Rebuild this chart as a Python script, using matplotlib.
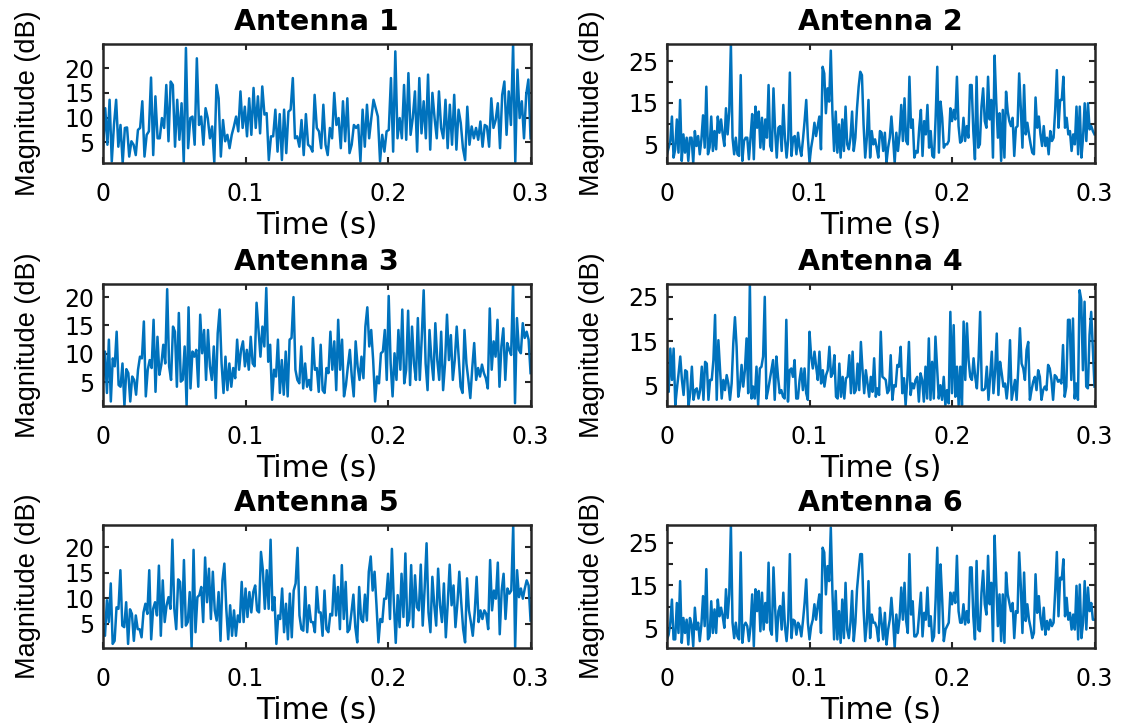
import numpy as np
import matplotlib
matplotlib.use("Agg")
import matplotlib.pyplot as plt

# Magnitude traces (dB) per antenna over a 0.3 s window
antenna1_mag = [
    3.8, 11.9, 4.5, 13.6, 1.1, 8.5, 13.6, 4.1, 8.5, 0.8, 7.9, 8.0, 2.1, 5.2, 4.5, 2.4,
    7.5, 7.9, 13.3, 2.1, 6.5, 7.2, 18.1, 2.4, 14.3, 5.8, 5.8, 9.9, 7.9, 16.6, 5.2, 17.3,
    16.6, 4.1, 13.6, 5.5, 12.9, 0.9, 24.1, 3.8, 9.9, 10.2, 4.5, 22.0, 8.5, 10.2, 4.5, 11.9,
    9.9, 5.8, 8.2, 0.9, 16.6, 13.9, 2.1, 9.5, 5.2, 6.5, 3.8, 6.5, 8.2, 10.2, 7.2, 15.3,
    7.9, 12.2, 6.2, 13.9, 6.5, 16.0, 7.9, 14.3, 6.8, 16.3, 10.6, 10.9, 1.4, 6.2, 6.2, 11.6,
    3.1, 10.7, 1.4, 11.6, 2.8, 11.2, 11.6, 18.0, 5.8, 6.2, 4.1, 9.5, 2.4, 10.7, 4.5, 4.1,
    3.1, 14.6, 7.9, 7.2, 3.8, 12.6, 4.5,
    2.4, 7.9, 5.8, 15.0, 8.5, 9.9, 3.8, 13.3, 5.2, 13.9, 2.8, 4.5, 8.5, 7.9, 8.5, 1.1,
    11.6, 4.1, 12.6, 5.8, 9.9, 13.6, 11.9, 10.2, 1.1, 6.5, 3.1, 7.2, 7.5, 18.0, 3.1, 23.4,
    5.8, 9.9, 5.8, 16.6, 5.5, 19.0, 6.5, 9.9, 15.3, 3.1, 18.0, 6.8, 13.3, 5.8, 18.7, 3.5,
    15.0, 9.9, 5.8, 15.3, 7.9, 5.8, 13.6, 3.8, 12.6, 4.5, 14.6, 3.5, 11.6, 8.9, 3.8, 1.4,
    12.2, 4.5, 8.2, 5.8, 7.9, 5.5, 9.2, 4.1, 8.5, 8.2, 4.1, 13.9, 7.9, 9.5, 12.9, 3.8,
    14.6, 17.3, 6.5, 15.3, 8.5, 24.9, 1.0, 19.7, 9.9, 13.3, 5.8, 14.6, 17.7, 5.8,
]

antenna2_mag = [
    2.6, 4.2, 5.8, 11.7, 1.8, 3.8, 11.0, 3.0, 15.7, 1.0, 7.4, 3.0, 6.6, 1.0, 6.6, 6.6,
    0.5, 8.2, 4.6, 7.0, 2.6, 6.2, 12.0, 4.2, 18.9, 2.6, 4.2, 11.7, 3.4, 8.2, 3.8, 11.7,
    7.8, 11.0, 7.4, 4.6, 13.7, 7.4, 12.9, 29.2, 6.6, 2.6, 6.6, 2.6, 2.2, 21.7, 1.0, 5.8,
    6.6, 6.6, 1.4, 6.6, 12.3, 1.4, 14.1, 9.0, 12.9, 4.2, 11.4, 3.8, 11.0, 6.6, 19.3, 4.6,
    3.4, 18.5, 8.2, 1.8, 9.0, 9.4, 3.4, 14.5, 6.6, 1.8, 6.2, 22.3, 2.2, 6.6, 7.0, 2.6,
    7.8, 4.2, 2.2, 6.2, 10.6, 15.7, 6.6, 0.6, 4.2, 6.6, 10.2, 7.0, 9.4, 11.7, 3.8, 23.7,
    22.1, 12.5, 18.5, 15.3, 27.6, 12.5, 3.4, 12.9, 3.0, 9.8, 1.8, 11.0, 3.4, 14.1, 5.0, 3.8,
    6.6, 12.9, 3.4, 6.6, 13.7, 18.9, 22.5, 21.7, 9.8, 1.8, 6.6, 15.7, 1.8, 8.2, 5.0, 6.2,
    4.2, 1.8, 8.2,
    7.8, 3.4, 7.8, 0.6, 4.2, 6.6, 11.7, 6.6, 0.5, 7.8, 3.4, 7.4, 14.5, 5.8, 16.1, 5.8,
    5.0, 21.3, 9.0, 11.0, 1.8, 3.4, 3.0, 9.0, 13.3, 2.2, 10.6, 7.4, 14.5, 4.2, 8.2, 2.2,
    1.8, 11.4, 23.7, 3.0, 15.3, 11.4, 4.2, 5.0, 5.0, 5.8, 13.7, 10.6, 13.3, 11.0, 21.3, 9.4,
    5.4, 5.8, 11.4, 5.8, 9.4, 6.6, 19.3, 19.3, 8.2, 1.4, 21.3, 4.2, 5.0, 14.1, 18.5, 10.6,
    9.0, 21.3, 11.0, 15.7, 1.8, 26.4, 15.3, 6.6, 12.5, 1.0, 13.3, 1.8, 17.7, 12.9, 10.6, 9.4,
    11.4, 2.2, 9.0, 9.4, 22.1, 13.7, 4.2, 19.3, 7.4, 10.2, 7.4, 5.0, 3.0, 2.6, 16.3, 9.0,
    11.7, 7.4, 4.6, 9.4, 4.6, 6.6, 2.6, 8.2, 5.8, 6.6, 13.3, 22.9, 9.0, 15.7, 15.7, 21.3,
    9.0, 11.4, 7.4, 8.2, 3.4, 7.4, 5.0, 14.1, 2.6, 14.1, 1.8, 6.6, 14.9, 5.8, 14.9, 8.6,
    9.4, 8.2, 7.4,
]

antenna3_mag = [
    4.8, 10.4, 3.1, 12.5, 1.6, 9.2, 7.8, 13.9, 4.5, 4.2, 8.3, 0.8, 7.3, 6.6, 1.6, 6.0,
    5.4, 2.8, 7.2, 9.5, 9.2, 15.7, 2.5, 7.2, 8.9, 7.5, 16.0, 3.3, 13.0, 6.3, 8.1, 11.6,
    8.3, 21.4, 7.8, 5.4, 14.8, 13.9, 4.2, 17.2, 5.1, 5.4, 11.3, 0.8, 18.2, 3.9, 10.4, 9.5,
    10.7, 4.2, 16.9, 10.1, 14.2, 5.4, 14.2, 7.8, 5.4, 11.3, 2.2, 13.6, 17.8, 8.3, 3.1, 9.5,
    3.6, 8.3, 4.2, 7.5, 5.7, 12.5, 7.2, 10.7, 12.2, 7.8, 10.7, 7.2, 13.0, 8.3, 7.8, 19.0,
    14.2, 9.5, 14.8, 11.3, 21.6, 8.6, 11.6, 1.9, 7.2, 6.0, 12.5, 3.1, 8.9, 2.8, 10.4, 2.5,
    12.5, 12.8, 20.0, 7.2, 5.4, 4.8, 11.3, 3.9, 8.3, 4.2, 5.4, 3.6, 12.8, 7.2, 7.5, 3.3,
    11.6, 3.6,
    3.1, 7.5, 6.6, 13.9, 7.2, 12.2, 3.6, 16.0, 7.2, 12.5, 2.5, 4.5, 7.8, 10.7, 6.0, 2.5,
    12.2, 7.8, 5.4, 9.5, 5.7, 14.8, 18.2, 11.3, 14.2, 8.9, 1.6, 6.0, 4.8, 10.1, 10.4, 14.2,
    5.4, 20.2, 8.3, 2.5, 10.1, 5.4, 14.2, 7.2, 17.8, 4.8, 7.2, 17.6, 4.5, 14.8, 8.3, 5.4,
    16.3, 5.4, 12.8, 21.2, 8.3, 3.6, 14.2, 8.9, 5.4, 15.4, 8.9, 5.4, 13.9, 3.6, 8.3, 16.9,
    8.9, 13.3, 5.4, 8.9, 14.8, 9.5, 4.2, 3.1, 14.2, 8.3, 5.4, 2.2, 7.5, 11.9, 5.4, 7.5,
    6.0, 8.1, 6.6, 5.7, 3.9, 18.0, 7.2, 12.2, 9.5, 16.0, 4.2, 11.3, 14.5, 5.4, 11.9, 10.7,
    9.8, 22.3, 1.3, 16.3, 10.7, 10.1, 15.4, 12.8, 13.9, 12.5, 6.6,
]

antenna4_mag = [
    4.7, 3.5, 13.3, 6.2, 13.3, 0.5, 4.3, 7.7, 11.5, 6.2, 2.8, 8.4, 8.1, 0.3, 3.2, 9.2,
    1.7, 3.9, 4.3, 2.0, 3.9, 9.2, 1.7, 10.3, 9.9, 1.7, 6.2, 6.2, 10.7, 20.9, 1.7, 15.2,
    8.4, 2.0, 6.2, 3.9, 7.3, 5.4, 1.7, 5.4, 14.5, 20.4, 13.7, 2.4, 4.7, 9.6, 4.7, 8.4,
    15.6, 3.2, 27.9, 2.0, 4.7, 2.0, 9.2, 0.5, 8.8, 9.2, 11.5, 25.0, 2.0, 3.9, 6.2, 8.4,
    10.7, 1.7, 11.5, 6.9, 3.2, 3.9, 2.4, 2.0, 19.8, 1.3, 8.4, 8.8, 6.9, 10.7, 2.0, 2.0,
    6.2, 8.8, 3.9, 8.8, 3.2, 1.7, 17.1, 11.5, 8.8, 12.6, 9.2, 6.2, 12.6, 5.4, 8.4, 4.7,
    7.3, 8.4, 13.7, 6.9, 7.7, 11.8, 2.4, 2.0, 9.9, 2.4, 6.9, 2.0, 6.6, 6.9, 11.8, 3.2,
    12.6, 3.2, 3.9, 9.9, 3.9, 14.8, 8.4, 3.2, 8.4, 5.4, 2.4, 6.9, 3.5, 11.1, 2.4, 4.3,
    2.8, 17.1,
    6.9, 6.6, 6.2, 3.2, 3.9, 11.8, 1.7, 5.0, 4.7, 9.6, 9.2, 13.7, 3.2, 6.6, 0.5, 6.2,
    14.8, 2.8, 5.4, 4.3, 6.2, 6.9, 1.3, 7.7, 6.2, 1.3, 9.2, 2.0, 15.6, 1.7, 10.3, 2.0,
    16.0, 9.2, 2.0, 5.0, 1.7, 6.9, 0.5, 3.9, 0.9, 21.6, 3.2, 18.6, 2.4, 9.2, 0.5, 9.2,
    0.5, 19.4, 6.2, 19.0, 10.7, 6.9, 6.2, 11.1, 6.9, 4.3, 10.7, 21.6, 3.9, 3.9, 4.3, 9.2,
    1.7, 6.9, 12.6, 3.2, 8.1, 16.7, 2.8, 10.3, 7.7, 4.7, 5.4, 2.0, 5.8, 15.2, 1.7, 3.9,
    6.2, 1.7, 8.8, 17.9, 9.9, 8.8, 6.2, 13.0, 14.8, 1.7, 3.9, 5.8, 6.9, 3.9, 8.4, 6.9,
    1.7, 3.9, 4.7, 3.9, 9.6, 8.8, 6.2, 1.7, 7.3, 6.9, 5.8, 6.2, 5.4, 14.1, 2.4, 4.7,
    19.8, 19.8, 6.2, 20.1, 2.0, 5.4, 1.7, 26.5, 24.3, 8.4, 23.9, 4.7, 4.3, 16.4, 21.6, 13.0,
    4.7,
]

antenna5_mag = [
    3.6, 2.6, 9.6, 5.3, 12.9, 1.0, 1.6, 8.2, 7.9, 15.5, 4.6, 4.3, 9.2, 1.0, 7.8, 6.9,
    1.6, 6.6, 3.9, 3.9, 2.3, 7.2, 8.9, 6.9, 15.5, 1.9, 7.9, 9.2, 6.6, 16.4, 2.6, 13.5,
    5.3, 8.6, 10.2, 7.9, 21.5, 7.9, 3.9, 13.7, 13.2, 4.3, 17.5, 4.6, 5.3, 11.2, 0.2, 19.5,
    3.3, 10.2, 10.6, 12.2, 5.3, 18.0, 9.2, 15.8, 5.9, 15.2, 7.6, 5.6, 11.2, 1.6, 13.5, 16.8,
    7.9, 1.9, 8.6, 2.6, 7.6, 2.6, 6.6, 5.3, 13.2, 5.3, 11.9, 6.3, 11.2, 7.2, 11.2, 12.5,
    7.6, 7.2, 19.1, 15.5, 7.9, 15.5, 7.9, 21.5, 7.6, 10.2, 1.0, 6.6, 5.9, 11.9, 3.3, 8.9,
    1.9, 10.9, 2.3, 11.5, 12.9, 19.9, 6.6, 3.9, 3.6, 12.2, 3.3, 8.6, 5.3, 5.3, 3.3, 12.2,
    7.2, 7.2, 2.6, 11.5, 3.9,
    3.3, 6.9, 6.6, 14.5, 6.6, 12.2, 3.9, 16.5, 5.9, 13.2, 3.3, 3.9, 7.2, 10.7, 4.3, 1.3,
    12.2, 5.9, 5.3, 10.7, 5.6, 15.2, 18.2, 11.5, 15.2, 8.6, 1.3, 5.9, 5.3, 9.9, 9.9, 14.8,
    5.9, 19.7, 9.2, 1.2, 10.6, 4.3, 14.8, 6.3, 18.8, 4.6, 5.9, 16.5, 4.3, 14.5, 8.2, 7.6,
    16.6, 4.6, 11.9, 20.8, 7.2, 3.3, 14.2, 8.6, 4.6, 15.8, 8.6, 5.3, 12.9, 2.3, 8.9, 16.6,
    8.6, 12.5, 4.3, 8.9, 15.2, 9.2, 3.9, 1.3, 13.9, 7.6, 5.3, 2.6, 7.2, 14.2, 5.3, 7.6,
    5.9, 7.6, 6.9, 3.9, 17.5, 7.6, 11.5, 9.9, 17.0, 2.9, 11.5, 14.8, 5.9, 11.9, 10.9, 11.5,
    24.4, 0.3, 15.5, 10.2, 11.9, 9.9, 11.9, 13.5, 12.5, 5.6,
]

antenna6_mag = [
    2.4, 3.5, 6.3, 11.7, 2.4, 2.4, 10.9, 3.9, 16.0, 1.6, 7.4, 3.9, 7.0, 1.2, 7.4, 5.9,
    0.8, 9.8, 4.7, 6.3, 2.0, 5.9, 12.5, 5.5, 18.8, 2.4, 3.1, 11.3, 3.9, 9.4, 3.9, 11.7,
    7.8, 9.8, 7.8, 5.1, 14.1, 7.4, 12.9, 29.1, 6.3, 2.7, 6.3, 3.1, 2.4, 22.7, 1.6, 5.5,
    6.3, 5.5, 2.0, 5.5, 12.9, 0.8, 14.1, 9.0, 13.7, 4.3, 13.3, 4.7, 10.9, 6.3, 20.3, 4.7,
    3.5, 19.2, 9.8, 2.0, 9.0, 10.2, 4.7, 13.3, 5.5, 2.0, 7.0, 22.3, 2.7, 7.0, 6.7, 3.5,
    6.3, 5.5, 3.1, 6.7, 10.9, 16.4, 6.3, 2.4, 5.5, 7.0, 10.6, 7.0, 10.2, 12.9, 3.9, 23.8,
    22.7, 12.9, 19.5, 16.0, 28.5, 13.3, 2.4, 13.7, 2.4, 9.0, 1.6, 11.7, 2.7, 15.6, 4.7, 2.7,
    6.3, 13.7, 2.0, 6.3, 14.1, 18.4, 22.3, 22.3, 9.4, 2.0, 6.3, 16.0, 2.7, 8.2, 6.3, 6.3,
    5.1, 2.0, 9.8,
    6.3, 2.4, 8.6, 1.2, 4.7, 7.0, 12.1, 7.0, 0.4, 8.2, 3.9, 7.4, 14.5, 7.0, 15.6, 6.7,
    3.9, 22.3, 8.2, 11.3, 3.1, 3.1, 3.9, 8.6, 13.3, 3.1, 8.6, 7.0, 14.5, 5.5, 7.8, 2.0,
    3.1, 11.7, 23.8, 3.9, 19.9, 11.7, 2.0, 4.7, 5.5, 6.3, 13.3, 10.6, 13.3, 10.9, 21.9, 9.0,
    6.3, 6.3, 10.6, 5.9, 9.0, 6.3, 19.2, 19.2, 7.8, 2.4, 20.7, 4.7, 4.3, 13.3, 18.4, 10.6,
    8.2, 21.9, 10.6, 15.6, 2.0, 26.6, 15.6, 5.5, 12.9, 2.0, 12.9, 1.6, 18.0, 12.9, 10.9, 9.0,
    10.9, 2.7, 9.0, 8.6, 22.7, 14.9, 3.9, 18.0, 6.7, 10.6, 7.0, 5.1, 2.7, 3.9, 17.6, 8.6,
    12.5, 7.4, 4.7, 9.8, 3.5, 6.7, 4.7, 7.0, 5.5, 6.3, 13.7, 22.8, 7.8, 16.8, 16.4, 21.1,
    7.8, 12.1, 7.0, 8.6, 4.7, 8.2, 4.7, 14.9, 2.4, 15.2, 2.7, 6.3, 16.0, 4.7, 14.5, 9.0,
    10.9, 7.0, 7.0,
]

titles = ["Antenna 1", "Antenna 2", "Antenna 3", "Antenna 4", "Antenna 5", "Antenna 6"]
series = [antenna1_mag, antenna2_mag, antenna3_mag, antenna4_mag, antenna5_mag, antenna6_mag]

x_ticks = [0, 0.1, 0.2, 0.3]
x_tick_labels = ["0", "0.1", "0.2", "0.3"]
yticks_small = [5, 10, 15, 20]
ytick_labels_small = ["5", "10", "15", "20"]
yticks_large = [5, 10, 15, 20, 25]
ytick_labels_large = ["5", "", "15", "", "25"]

# wide face for horizontal text, narrower one for the rotated y label
plt.rcParams['font.family'] = ['DejaVu Sans']
ylabel_font = ['Liberation Sans', 'DejaVu Sans']

fig = plt.figure(figsize=(11.25, 7.27), dpi=100)

# axes boxes in figure fractions [left, bottom, width, height]
col_left = [0.0916, 0.5929]
col_width = 0.3800
row_bottom = [0.7758, 0.4415, 0.1087]
row_height = [0.1637, 0.1678, 0.1692]

matlab_blue = "#0072BD"
frame_color = "#262626"

for i, (name, mag) in enumerate(zip(titles, series)):
    r, c = divmod(i, 2)
    ax = fig.add_axes([col_left[c], row_bottom[r], col_width, row_height[r]])
    mag = np.array(mag)
    t = np.linspace(0, 0.3, len(mag))
    ax.plot(t, mag, color=matlab_blue, linewidth=1.8)

    ax.set_xlim(0, 0.3)
    ax.set_ylim(mag.min(), mag.max())
    ax.set_xticks(x_ticks)
    ax.set_xticklabels(x_tick_labels)
    if c == 0:
        ax.set_yticks(yticks_small)
        ax.set_yticklabels(ytick_labels_small)
    else:
        ax.set_yticks(yticks_large)
        ax.set_yticklabels(ytick_labels_large)

    ax.tick_params(direction='in', length=4, width=1.5, top=True, right=True,
                   labelsize=17, colors=frame_color, labelcolor='black')
    ax.tick_params(axis='x', pad=13.5)
    ax.tick_params(axis='y', pad=6)
    for spine in ax.spines.values():
        spine.set_linewidth(1.8)
        spine.set_color(frame_color)

    ax.set_title(name, fontsize=20.5, fontweight='bold', pad=10)
    ax.set_xlabel("Time (s)", fontsize=21.5, labelpad=4)
    ax.set_ylabel("Magnitude (dB)", fontsize=19.5, family=ylabel_font, labelpad=17)

fig.savefig("out.png", dpi=100)
